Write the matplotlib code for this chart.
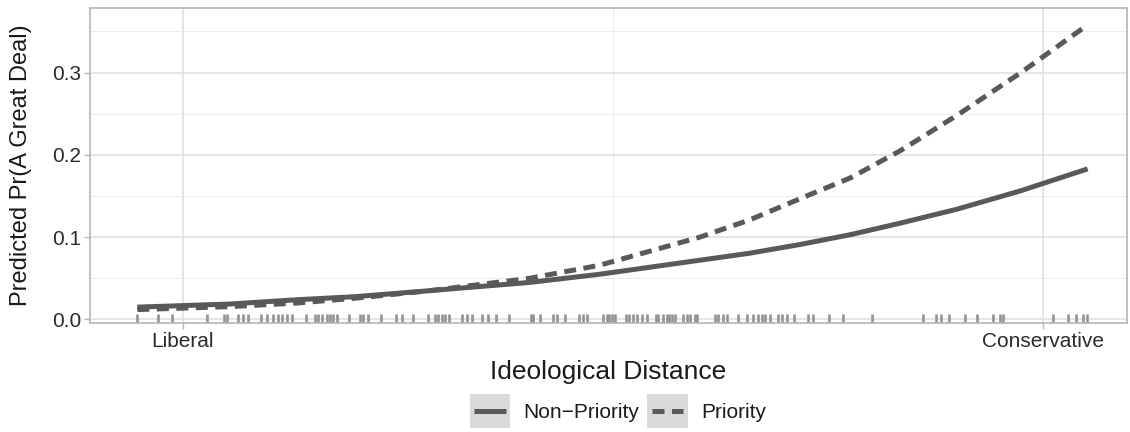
import numpy as np
import matplotlib
matplotlib.use("Agg")
import matplotlib.pyplot as plt
from matplotlib.patches import Rectangle
from matplotlib.lines import Line2D
from matplotlib.legend_handler import HandlerLine2D

plt.rcParams['font.family'] = ['Liberation Sans', 'DejaVu Sans']

# ideological distance (0 = Liberal, 1 = Conservative)
distance = [-0.053, 0.055, 0.133, 0.200, 0.287, 0.403, 0.485, 0.601, 0.659,
            0.717, 0.776, 0.834, 0.900, 0.973, 1.052]
non_priority = [0.015, 0.0188, 0.024, 0.0277, 0.035, 0.045, 0.055, 0.072, 0.0805,
                0.091, 0.103, 0.117, 0.134, 0.156, 0.183]
priority = [0.012, 0.0156, 0.020, 0.0258, 0.035, 0.050, 0.066, 0.100, 0.121,
            0.1465, 0.172, 0.205, 0.248, 0.299, 0.358]

# observed cases (rug)
rug = [-0.0538, -0.0287, -0.0124, 0.0283, 0.0480, 0.0508, 0.0643, 0.0701, 0.0759,
       0.0907, 0.0980, 0.1043, 0.1101, 0.1148, 0.1206, 0.1264, 0.1427, 0.1535,
       0.1573, 0.1613, 0.1678, 0.1709, 0.1748, 0.1787, 0.1930, 0.2058, 0.2097,
       0.2155, 0.2302, 0.2477, 0.2550, 0.2678, 0.2852, 0.2930, 0.2969, 0.3008,
       0.3047, 0.3093, 0.3248, 0.3306, 0.3357, 0.3473, 0.3550, 0.3640, 0.3794,
       0.4047, 0.4073, 0.4151, 0.4306, 0.4345, 0.4442, 0.4608, 0.4655, 0.4694,
       0.4887, 0.4927, 0.4957, 0.4985, 0.5023, 0.5151, 0.5190, 0.5236, 0.5276,
       0.5334, 0.5392, 0.5500, 0.5527, 0.5585, 0.5631, 0.5655, 0.5683, 0.5721,
       0.5810, 0.5857, 0.5895, 0.5953, 0.5980, 0.6186, 0.6224, 0.6283, 0.6329,
       0.6457, 0.6555, 0.6624, 0.6690, 0.6729, 0.6767, 0.6826, 0.6922, 0.6962,
       0.7020, 0.7105, 0.7271, 0.7329, 0.7515, 0.7678, 0.8015, 0.8608, 0.8756,
       0.8810, 0.8907, 0.9093, 0.9229, 0.9422, 0.9500, 0.9538, 1.0120, 1.0294,
       1.0384, 1.0469, 1.0515]

x_ticks = [0, 1]
x_labels = ["Liberal", "Conservative"]
y_ticks = [0.0, 0.1, 0.2, 0.3]

LINE_COLOR = "#595959"
RUG_COLOR = "#939393"


class KeyHandler(HandlerLine2D):
    # legend key with grey background box, ggplot style
    def create_artists(self, legend, orig_handle, xdescent, ydescent,
                       width, height, fontsize, trans):
        artists = super().create_artists(legend, orig_handle, xdescent, ydescent,
                                         width, height, fontsize, trans)
        padx = 3.3
        bh = 24.5
        yc = height / 2 - ydescent
        bg = Rectangle((-xdescent - padx, yc - bh / 2), width + 2 * padx, bh,
                       facecolor="#d9d9d9", edgecolor="none", transform=trans)
        return [bg] + list(artists)


fig = plt.figure(figsize=(11.3, 4.32), dpi=100)
ax = fig.add_axes([0.0796, 0.2523, 0.9177, 0.7292])

ax.plot(distance, non_priority, color=LINE_COLOR, lw=3.6, solid_capstyle="butt",
        solid_joinstyle="round", label="Non\u2212Priority", zorder=3)
ax.plot(distance, priority, color=LINE_COLOR, lw=3.6, linestyle=(0, (2.4, 1.5)),
        dash_capstyle="butt", dash_joinstyle="round", label="Priority", zorder=3)

ax.vlines(rug, 0, 0.03, transform=ax.get_xaxis_transform(), color=RUG_COLOR,
          lw=1.9, zorder=2)

ax.set_xlim(-0.1081, 1.0977)
ax.set_ylim(-0.0043, 0.3785)

ax.set_xticks(x_ticks)
ax.set_xticklabels(x_labels)
ax.set_xticks([0.5], minor=True)
ax.set_yticks(y_ticks)
ax.set_yticklabels([f"{v:.1f}" for v in y_ticks])
ax.set_yticks([0.05, 0.15, 0.25, 0.35], minor=True)

ax.grid(True, which="major", color="#dedede", lw=1.1, zorder=0)
ax.grid(True, which="minor", color="#ececec", lw=0.7, zorder=0)
ax.set_axisbelow(True)

for s in ax.spines.values():
    s.set_color("#b5b5b5")
    s.set_linewidth(1.2)

ax.tick_params(which="major", length=4, width=1.0, color="#b5b5b5",
               labelsize=15, labelcolor="#2b2b2b", pad=2.5)
ax.tick_params(which="minor", length=0)

ax.set_xlabel("Ideological Distance", fontsize=19, color="#1a1a1a", va="center")
ax.xaxis.set_label_coords(0.5, -0.156)
ax.set_ylabel("Predicted Pr(A Great Deal)", fontsize=17, color="#1a1a1a", va="center")
ax.yaxis.set_label_coords(-0.0665, 0.5)

handles, labels = ax.get_legend_handles_labels()
leg = fig.legend(handles, labels, loc="center", bbox_to_anchor=(0.549, 0.044),
                 ncol=2, frameon=False, fontsize=15, handlelength=1.5,
                 handleheight=0.7, handletextpad=0.87, columnspacing=0.6,
                 handler_map={Line2D: KeyHandler()})
for t in leg.get_texts():
    t.set_color("#1a1a1a")

fig.savefig("out.png", dpi=100)
